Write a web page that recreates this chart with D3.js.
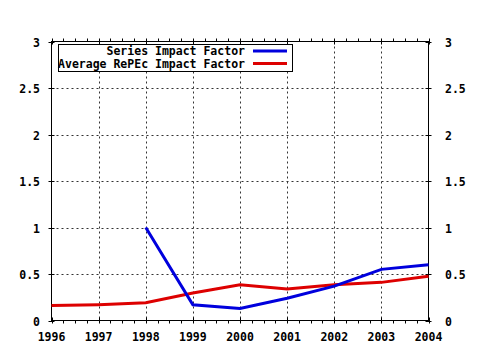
<!DOCTYPE html>
<html><head><meta charset="utf-8">
<script src="https://cdn.jsdelivr.net/npm/d3@7"></script>
<style>
html,body{margin:0;padding:0;background:#fff;}
text{font-family:"DejaVu Sans Mono",monospace;font-weight:bold;font-size:11.5px;fill:#000;}
</style></head>
<body><svg id="c" width="480" height="350"></svg>
<script>
const years = [1996,1997,1998,1999,2000,2001,2002,2003,2004];
const seriesYears = [1998,1999,2000,2001,2002,2003,2004];
const seriesIF = [1.0,0.17,0.13,0.24,0.37,0.55,0.60];
const avgIF = [0.16,0.17,0.19,0.295,0.385,0.34,0.385,0.41,0.475];
const yTicks = [0,0.5,1,1.5,2,2.5,3];
const yTickLabels = ["0","0.5","1","1.5","2","2.5","3"];
const legendLabels = ["Series Impact Factor","Average RePEc Impact Factor"];
const colors = ["#0000dd","#dd0000"];

const svg = d3.select("#c");
const L=51.5, R=428.5, T=41.5, B=320.5;
const x = d3.scaleLinear().domain([1996,2004]).range([L,R]);
const y = d3.scaleLinear().domain([0,3]).range([B,T]);

// grid
const g = svg.append("g");
years.slice(1,-1).forEach(v=>{
  g.append("line").attr("x1",Math.round(x(v))+0.5).attr("x2",Math.round(x(v))+0.5).attr("y1",T).attr("y2",B)
   .attr("stroke","#333").attr("stroke-dasharray","2,3");
});
yTicks.slice(1,-1).forEach(v=>{
  g.append("line").attr("y1",Math.round(y(v))+0.5).attr("y2",Math.round(y(v))+0.5).attr("x1",L).attr("x2",R)
   .attr("stroke","#333").attr("stroke-dasharray","2,3");
});

// frame
svg.append("rect").attr("x",L).attr("y",T).attr("width",R-L).attr("height",B-T)
  .attr("fill","none").attr("stroke","#000");

// x ticks
const minor = d3.range(1996,2004.001,0.25);
minor.forEach(v=>{
  const px = Math.round(x(v))+0.5;
  const major = Math.abs(v-Math.round(v))<1e-6;
  svg.append("line").attr("x1",px).attr("x2",px).attr("y1",major?B-3:B).attr("y2",B+3).attr("stroke","#000");
  svg.append("line").attr("x1",px).attr("x2",px).attr("y1",major?T+3:T).attr("y2",T-3).attr("stroke","#000");
});
// y ticks
yTicks.forEach((v,i)=>{
  const py = Math.round(y(v))+0.5;
  svg.append("line").attr("x1",L-3).attr("x2",L+3).attr("y1",py).attr("y2",py).attr("stroke","#000");
  svg.append("line").attr("x1",R-3).attr("x2",R+3).attr("y1",py).attr("y2",py).attr("stroke","#000");
  svg.append("text").attr("x",40).attr("y",py+4).attr("text-anchor","end").text(yTickLabels[i]);
  svg.append("text").attr("x",445).attr("y",py+4).attr("text-anchor","start").text(yTickLabels[i]);
});
years.forEach(v=>{
  svg.append("text").attr("x",x(v)).attr("y",341).attr("text-anchor","middle").text(v);
});

// lines
const line = d3.line().x(d=>x(d[0])).y(d=>y(d[1]));
svg.append("path").datum(years.map((yr,i)=>[yr,avgIF[i]])).attr("d",line)
  .attr("fill","none").attr("stroke",colors[1]).attr("stroke-width",3);
svg.append("path").datum(seriesYears.map((yr,i)=>[yr,seriesIF[i]])).attr("d",line)
  .attr("fill","none").attr("stroke",colors[0]).attr("stroke-width",3);

// legend
svg.append("rect").attr("x",58.5).attr("y",44.5).attr("width",234).attr("height",27)
  .attr("fill","#fff").attr("stroke","#000");
legendLabels.forEach((t,i)=>{
  const cy = 51 + i*12.5;
  svg.append("text").attr("x",245).attr("y",cy+4).attr("text-anchor","end").text(t);
  svg.append("line").attr("x1",253).attr("x2",287).attr("y1",cy).attr("y2",cy)
    .attr("stroke",colors[i]).attr("stroke-width",3);
});
</script></body></html>
